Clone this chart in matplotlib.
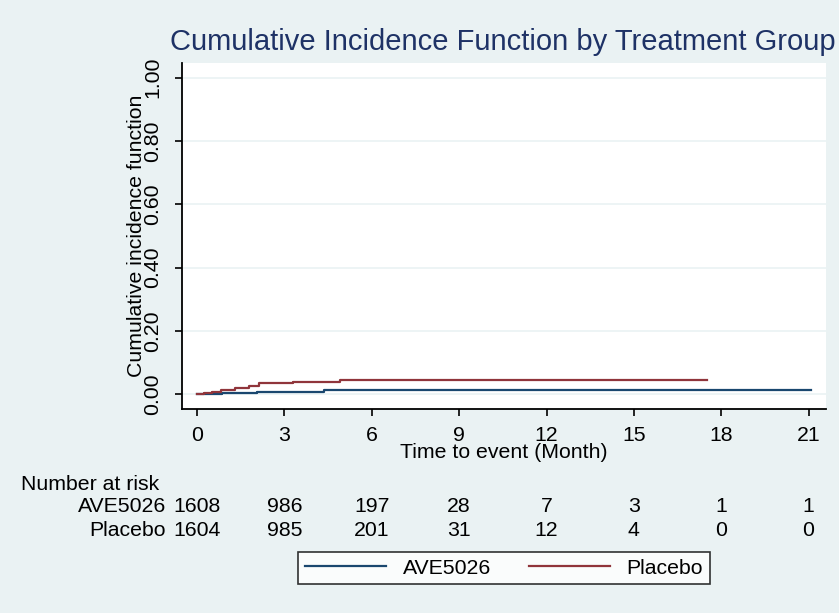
import matplotlib
matplotlib.use("Agg")
import matplotlib.pyplot as plt
from matplotlib import transforms

# ---- data ----
red_t = [0, 0.22, 0.50, 0.82, 1.31, 1.79, 2.11, 3.28, 4.91, 17.5]
red_v = [0, 0.005, 0.008, 0.0145, 0.021, 0.027, 0.035, 0.038, 0.044, 0.044]
blue_t = [0, 0.50, 0.87, 2.05, 4.36, 21.1]
blue_v = [0, 0.002, 0.006, 0.009, 0.015, 0.015]

groups = ["AVE5026", "Placebo"]
risk_times = [0, 3, 6, 9, 12, 15, 18, 21]
risk_ave = [1608, 986, 197, 28, 7, 3, 1, 1]
risk_pla = [1604, 985, 201, 31, 12, 4, 0, 0]

xticks = [0, 3, 6, 9, 12, 15, 18, 21]
yticks = [0.0, 0.2, 0.4, 0.6, 0.8, 1.0]

BG = "#EAF2F3"
BLUE = "#1A476F"
RED = "#90353B"
W, H = 839, 613
FS = 15.3

plt.rcParams['font.family'] = ['Liberation Sans', 'DejaVu Sans']

fig = plt.figure(figsize=(W / 100, H / 100), dpi=100, facecolor=BG)
left, right, top, bottom = 182, 826, 62.7, 409
ax = fig.add_axes([left / W, (H - bottom) / H, (right - left) / W, (bottom - top) / H])
ax.set_facecolor("white")

ax.plot(blue_t, blue_v, drawstyle="steps-post", color=BLUE, lw=1.6, label=groups[0])
ax.plot(red_t, red_v, drawstyle="steps-post", color=RED, lw=1.6, label=groups[1])

ax.set_xlim(-0.52, 21.6)
ax.set_ylim(-0.046, 1.047)
ax.set_xticks(xticks)
ax.set_yticks(yticks)
ax.set_yticklabels([f"{v:.2f}" for v in yticks], rotation=90, va="center")
ax.tick_params(axis="both", labelsize=FS, length=5, width=1.2, color="black")
ax.tick_params(axis="x", pad=7)
ax.tick_params(axis="y", pad=9)
for s in ["top", "right"]:
    ax.spines[s].set_visible(False)
for s in ["left", "bottom"]:
    ax.spines[s].set_linewidth(1.3)
ax.grid(axis="y", color=BG, lw=1.2)
ax.set_axisbelow(True)

fig.text(503 / W, 1 - 42 / H, "Cumulative Incidence Function by Treatment Group",
         ha="center", va="center", fontsize=21, color="#1E3266")
fig.text(137 / W, 1 - 236 / H, "Cumulative incidence function", rotation=90,
         ha="center", va="center", fontsize=FS)
fig.text(504 / W, 1 - 452 / H, "Time to event (Month)", ha="center", va="center", fontsize=FS)

# number at risk
tr = transforms.blended_transform_factory(ax.transData, fig.transFigure)
fig.text(21 / W, 1 - 484 / H, "Number at risk", ha="left", va="center", fontsize=FS)
for row_y, name, vals in [(507, groups[0], risk_ave), (531, groups[1], risk_pla)]:
    fig.text(166 / W, 1 - row_y / H, name, ha="right", va="center", fontsize=FS)
    for t, v in zip(risk_times, vals):
        ax.text(t, 1 - row_y / H, str(v), transform=tr, ha="center", va="center", fontsize=FS)

# legend
leg = fig.legend(loc="center", bbox_to_anchor=(504 / W, 1 - 568 / H), ncol=2,
                 fontsize=FS, frameon=True, fancybox=False, edgecolor="black",
                 handlelength=3.8, columnspacing=1.8, handletextpad=0.8,
                 borderpad=0.3)
leg.get_frame().set_linewidth(1.2)

fig.savefig("out.png", dpi=100, facecolor=BG)
